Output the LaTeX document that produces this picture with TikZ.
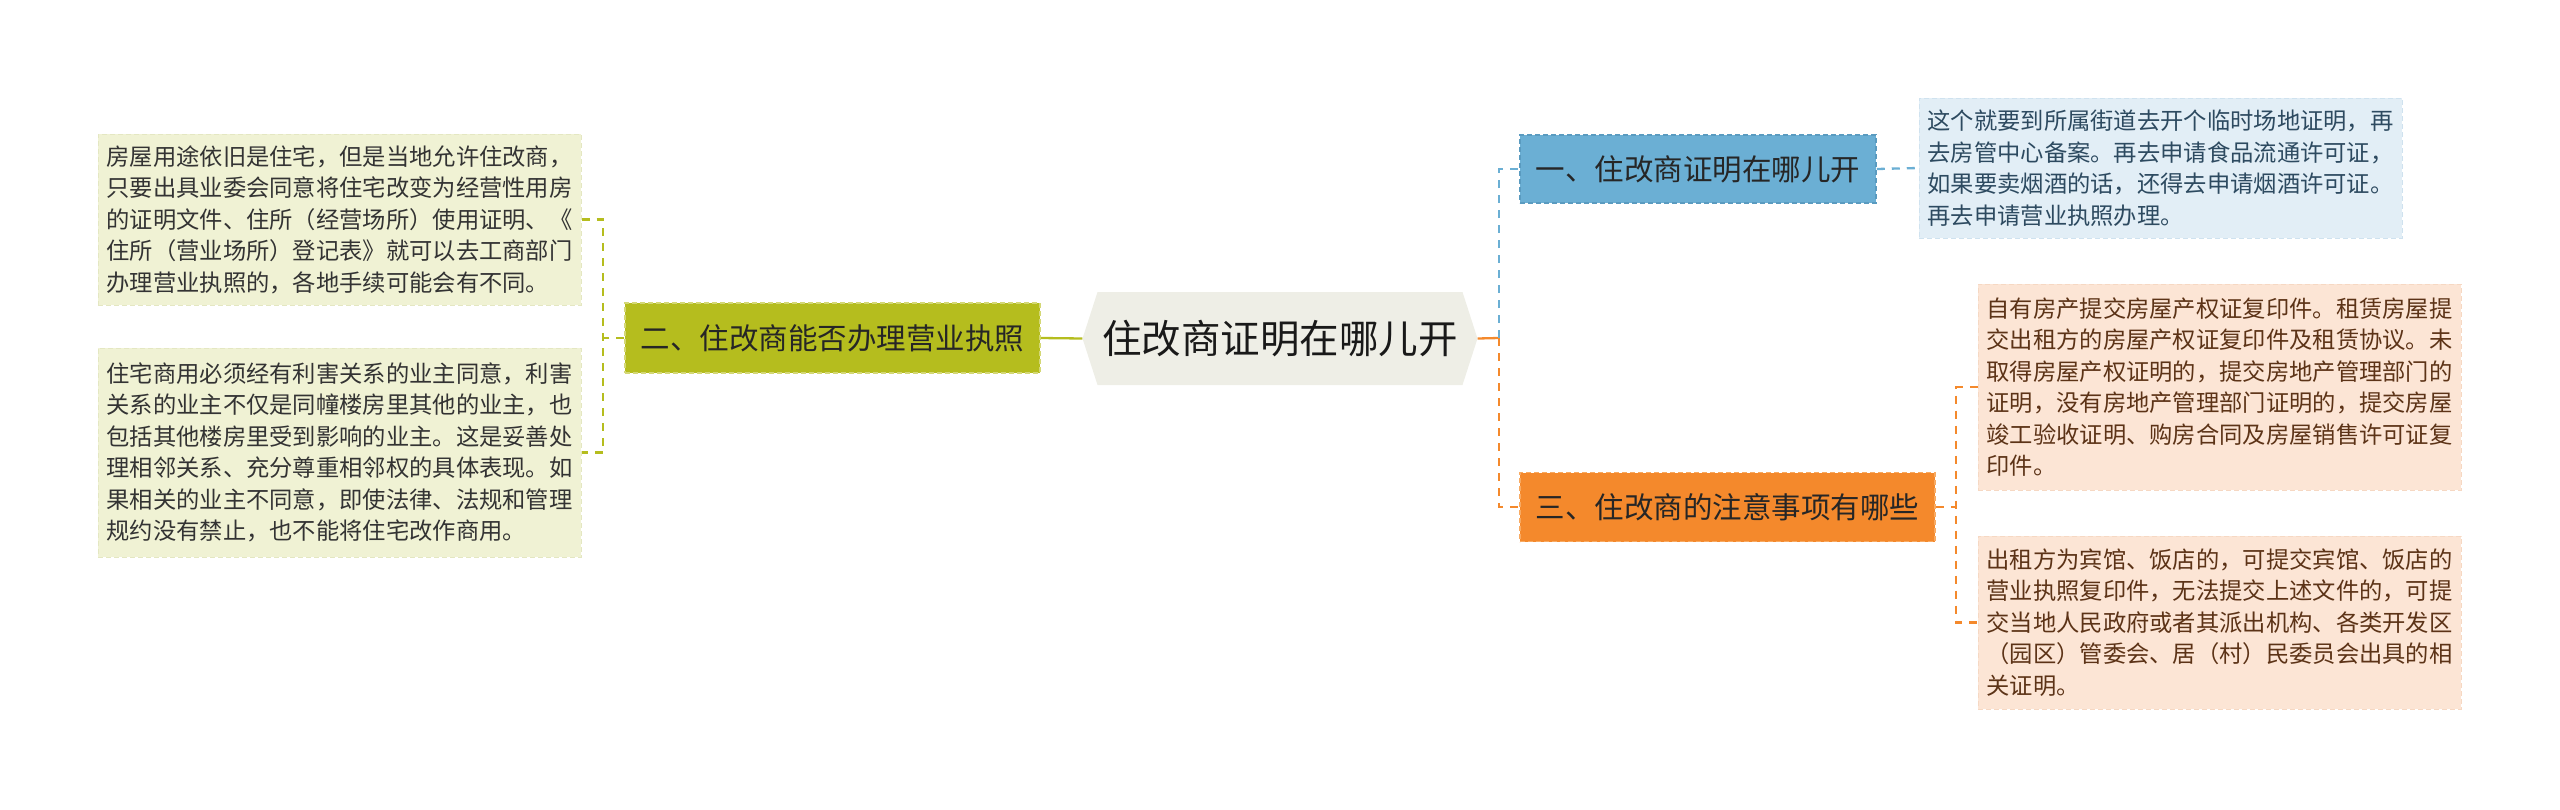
\documentclass[tikz,border=0pt]{standalone}
\usepackage{fontspec}
\setmainfont{Noto Sans CJK SC}
\usepackage{tikz}
\usepackage{xcolor}

\definecolor{rootfill}{HTML}{EEEEE6}
\definecolor{olive}{HTML}{B5BD1E}
\definecolor{oliveedge}{HTML}{D4D876}
\definecolor{olivelight}{HTML}{F0F2D4}
\definecolor{oliveleafedge}{HTML}{E4E7C2}
\definecolor{skyblue}{HTML}{6BAFD4}
\definecolor{skyedge}{HTML}{5A9BC0}
\definecolor{skylight}{HTML}{E2EEF6}
\definecolor{skyleafedge}{HTML}{CFE2EF}
\definecolor{skytext}{HTML}{2D4A60}
\definecolor{tangerine}{HTML}{F4892C}
\definecolor{tangedge}{HTML}{F8AA62}
\definecolor{peach}{HTML}{FCE5D5}
\definecolor{peachedge}{HTML}{F6D8C3}
\definecolor{browntext}{HTML}{5C3317}

\tikzset{
  leafbox/.style={inner sep=0pt, minimum width=483pt, align=left,
    font=\fontsize{23.3}{31.5}\selectfont, line width=1pt,
    dash pattern=on 5pt off 3pt},
  topicbox/.style={inner sep=0pt, font=\fontsize{29.5}{34}\selectfont,
    text=black!85, line width=1.5pt, dash pattern=on 5pt off 3pt},
  link/.style={line width=2.3pt},
  dashlink/.style={line width=2.3pt, dash pattern=on 8pt off 7pt},
}

\begin{document}
\begin{tikzpicture}[x=1pt,y=-1pt]
            \useasboundingbox (0,0) rectangle (2560,809);
            \node (root) [inner sep=0pt, minimum width=395pt, minimum height=93pt,
              font=\fontsize{39.5}{44}\selectfont, text=black!90,
              path picture={\fill[rootfill] ([xshift=15pt]path picture bounding box.north west)
                -- ([xshift=-15pt]path picture bounding box.north east)
                -- (path picture bounding box.east)
                -- ([xshift=-15pt]path picture bounding box.south east)
                -- ([xshift=15pt]path picture bounding box.south west)
                -- (path picture bounding box.west) -- cycle;}]
              at (1280,338.5) {住改商证明在哪儿开};
            % left branch
            \node (two) [topicbox, fill=olive, draw=oliveedge, minimum width=415pt, minimum height=70pt]
              at (832.5,338) {二、住改商能否办理营业执照};
            \node (leafA) [leafbox, fill=olivelight, draw=oliveleafedge, minimum height=171pt, text=black!80]
              at (339.5,219.5) {房屋用途依旧是住宅，但是当地允许住改商，\\只要出具业委会同意将住宅改变为经营性用房\\的证明文件、住所（经营场所）使用证明、《\\住所（营业场所）登记表》就可以去工商部门\\办理营业执照的，各地手续可能会有不同。};
            \node (leafB) [leafbox, fill=olivelight, draw=oliveleafedge, minimum height=209pt, text=black!80]
              at (339.5,452.5) {住宅商用必须经有利害关系的业主同意，利害\\关系的业主不仅是同幢楼房里其他的业主，也\\包括其他楼房里受到影响的业主。这是妥善处\\理相邻关系、充分尊重相邻权的具体表现。如\\果相关的业主不同意，即使法律、法规和管理\\规约没有禁止，也不能将住宅改作商用。};
            % right branches
            \node (one) [topicbox, fill=skyblue, draw=skyedge, minimum width=356pt, minimum height=68pt]
              at (1698,169) {一、住改商证明在哪儿开};
            \node (leafC) [leafbox, fill=skylight, draw=skyleafedge, minimum height=140pt, text=skytext]
              at (2160.5,168) {这个就要到所属街道去开个临时场地证明，再\\去房管中心备案。再去申请食品流通许可证，\\如果要卖烟酒的话，还得去申请烟酒许可证。\\再去申请营业执照办理。};
            \node (three) [topicbox, fill=tangerine, draw=tangedge, minimum width=415pt, minimum height=69pt]
              at (1727.5,507) {三、住改商的注意事项有哪些};
            \node (leafD) [leafbox, fill=peach, draw=peachedge, minimum height=206pt, text=browntext]
              at (2219.5,387) {自有房产提交房屋产权证复印件。租赁房屋提\\交出租方的房屋产权证复印件及租赁协议。未\\取得房屋产权证明的，提交房地产管理部门的\\证明，没有房地产管理部门证明的，提交房屋\\竣工验收证明、购房合同及房屋销售许可证复\\印件。};
            \node (leafE) [leafbox, fill=peach, draw=peachedge, minimum height=173pt, text=browntext]
              at (2219.5,622.5) {出租方为宾馆、饭店的，可提交宾馆、饭店的\\营业执照复印件，无法提交上述文件的，可提\\交当地人民政府或者其派出机构、各类开发区\\（园区）管委会、居（村）民委员会出具的相\\关证明。};
            \coordinate (leftfork) at (603,338);
            \coordinate (rightfork) at (1499,338);
            \coordinate (orangefork) at (1956,507);
            \draw[link, olive] (root.west) -- (two.east);
            \draw[dashlink, olive] (two.west) -- (leftfork);
            \draw[dashlink, olive] (leafA.east) -| (leftfork) |- (leafB.east);
            \draw[link, tangerine] (root.east) -- (rightfork);
            \draw[dashlink, skyblue] (rightfork) |- (one.west);
            \draw[dashlink, tangerine] (rightfork) |- (three.west);
            \draw[dashlink, skyblue] (one.east) -- (leafC.west);
            \draw[dashlink, tangerine] (three.east) -- (orangefork);
            \draw[dashlink, tangerine] (leafD.west) -| (orangefork) |- (leafE.west);
        \end{tikzpicture}
\end{document}
